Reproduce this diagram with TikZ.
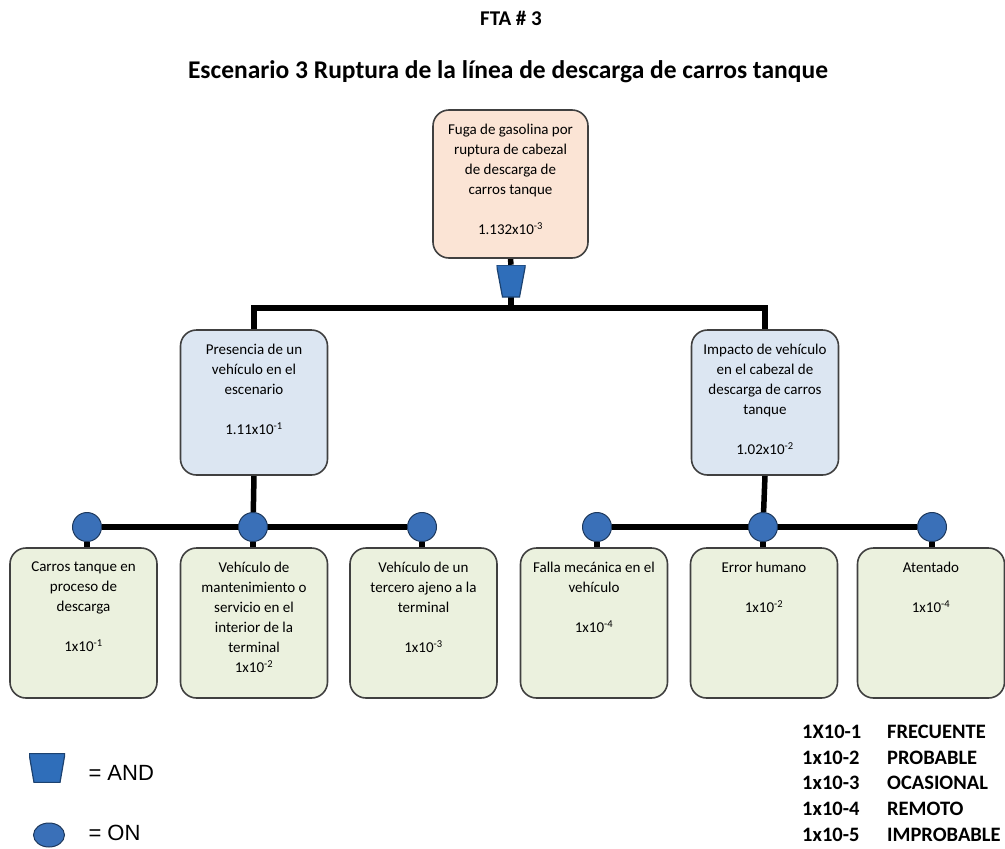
\documentclass[tikz,border=0pt]{standalone}
\usepackage{fontspec}
\setmainfont{Carlito}
\newfontfamily\arialfont{Liberation Sans}
\usetikzlibrary{positioning, calc, shapes.geometric, backgrounds}
\definecolor{topfill}{HTML}{FBE4D5}
\definecolor{midfill}{HTML}{DCE6F2}
\definecolor{leaffill}{HTML}{EBF1DE}
\definecolor{gateblue}{HTML}{2F6EBA}
\definecolor{orblue}{HTML}{3A70B8}
\definecolor{boxline}{HTML}{404040}

% text set at the top of an event box
\newcommand{\evtext}[3]{\parbox[c][#1][t]{#2}{\centering\vspace*{6pt}#3}}

\begin{document}
\begin{tikzpicture}[x=1pt, y=-1pt,
    event/.style={draw=boxline, line width=1.6pt, rounded corners=16pt, inner sep=0pt, align=center,
        font=\fontsize{15}{20}\selectfont},
    topev/.style={event, fill=topfill, minimum width=155pt, minimum height=148pt},
    midev/.style={event, fill=midfill, minimum width=147pt, minimum height=145pt},
    leafev/.style={event, fill=leaffill, minimum width=147pt, minimum height=150pt},
    andgate/.style={rectangle, inner sep=0pt, path picture={
        \draw[fill=gateblue, draw=gateblue!60!black, line width=1.2pt]
            (path picture bounding box.north west) -- (path picture bounding box.north east)
            -- ([xshift=-#1]path picture bounding box.south east)
            -- ([xshift=#1]path picture bounding box.south west) -- cycle;}},
    orgate/.style={circle, fill=orblue, draw=orblue!50!black, line width=1pt, minimum size=29pt, inner sep=0pt},
    link/.style={line width=5.5pt, black}
]
    \useasboundingbox (0,0) rectangle (1005,849);

    % titles
    \node[font=\fontsize{21}{24}\selectfont\bfseries] (fta) at (511,18) {FTA \# 3};
    \node[font=\fontsize{25.5}{30}\selectfont\bfseries] (titulo) at (508,72)
        {Escenario 3 Ruptura de la línea de descarga de carros tanque};

    % top event
    \node[topev] (fuga) at (510.5,184) {\evtext{132pt}{150pt}{Fuga de gasolina por\\ruptura de cabezal\\de descarga de\\carros tanque\\[20pt]1.132x10\textsuperscript{-3}}};
    \node[andgate=6pt, minimum width=29pt, minimum height=32pt] (and1) at (511,281) {};

    % intermediate events
    \node[midev] (presencia) at (254,402.5) {\evtext{129pt}{140pt}{Presencia de un\\vehículo en el\\escenario\\[20pt]1.11x10\textsuperscript{-1}}};
    \node[midev] (impacto) at (765,402.5) {\evtext{129pt}{140pt}{Impacto de vehículo\\en el cabezal de\\descarga de carros\\tanque\\[20pt]1.02x10\textsuperscript{-2}}};

    % basic events
    \node[leafev] (carros) at (83.5,623) {\evtext{134pt}{140pt}{Carros tanque en\\proceso de\\descarga\\[20pt]1x10\textsuperscript{-1}}};
    \node[leafev] (mant) at (254,623) {\evtext{134pt}{140pt}{Vehículo de\\mantenimiento o\\servicio en el\\interior de la\\terminal\\1x10\textsuperscript{-2}}};
    \node[leafev] (tercero) at (423.5,623) {\evtext{134pt}{140pt}{Vehículo de un\\tercero ajeno a la\\terminal\\[20pt]1x10\textsuperscript{-3}}};
    \node[leafev] (falla) at (594,623) {\evtext{134pt}{140pt}{Falla mecánica en el\\vehículo\\[20pt]1x10\textsuperscript{-4}}};
    \node[leafev] (error) at (764,623) {\evtext{134pt}{140pt}{Error humano\\[20pt]1x10\textsuperscript{-2}}};
    \node[leafev] (atentado) at (931,623) {\evtext{134pt}{140pt}{Atentado\\[20pt]1x10\textsuperscript{-4}}};

    % or gates
    \node[orgate] (or1) at (87,527) {};
    \node[orgate] (or2) at (253,527) {};
    \node[orgate] (or3) at (422,527) {};
    \node[orgate] (or4) at (597,527) {};
    \node[orgate] (or5) at (763,527) {};
    \node[orgate] (or6) at (932,527) {};

    \coordinate (andbar) at (511,308);

    \begin{scope}[on background layer]
        \draw[link] (fuga.south) -- (and1.north);
        \draw[link] (and1.south) -- (andbar);
        \draw[link] (presencia.north) |- (andbar) -| (impacto.north);
        \draw[link] (presencia.south) -- (or2);
        \draw[link] (impacto.south) -- (or5);
        \draw[link] (or1) -- (or3);
        \draw[link] (or4) -- (or6);
        \draw[link] (or1) -- (or1 |- carros.north);
        \draw[link] (or2) -- (or2 |- mant.north);
        \draw[link] (or3) -- (or3 |- tercero.north);
        \draw[link] (or4) -- (or4 |- falla.north);
        \draw[link] (or5) -- (or5 |- error.north);
        \draw[link] (or6) -- (or6 |- atentado.north);
    \end{scope}

    % legend
    \node[andgate=5pt, minimum width=36pt, minimum height=29pt] (legand) at (47,768) {};
    \node[font=\arialfont\fontsize{22}{24}\selectfont, anchor=west] (legandtxt) at (85,773) {= AND};
    \node[ellipse, fill=orblue, draw=orblue!50!black, line width=1pt, minimum width=31pt, minimum height=24pt, inner sep=0pt] (legor) at (49,835) {};
    \node[font=\arialfont\fontsize{22}{24}\selectfont, anchor=west] (legortxt) at (85,833) {= ON};

    % scale
    \node[anchor=north west, inner sep=0pt, font=\fontsize{20.5}{25.8}\selectfont\bfseries] (escala) at (802,720)
        {\begin{tabular}{@{}p{85pt}@{}l@{}}
        1X10-1 & FRECUENTE\\
        1x10-2 & PROBABLE\\
        1x10-3 & OCASIONAL\\
        1x10-4 & REMOTO\\
        1x10-5 & IMPROBABLE
        \end{tabular}};
\end{tikzpicture}
\end{document}
